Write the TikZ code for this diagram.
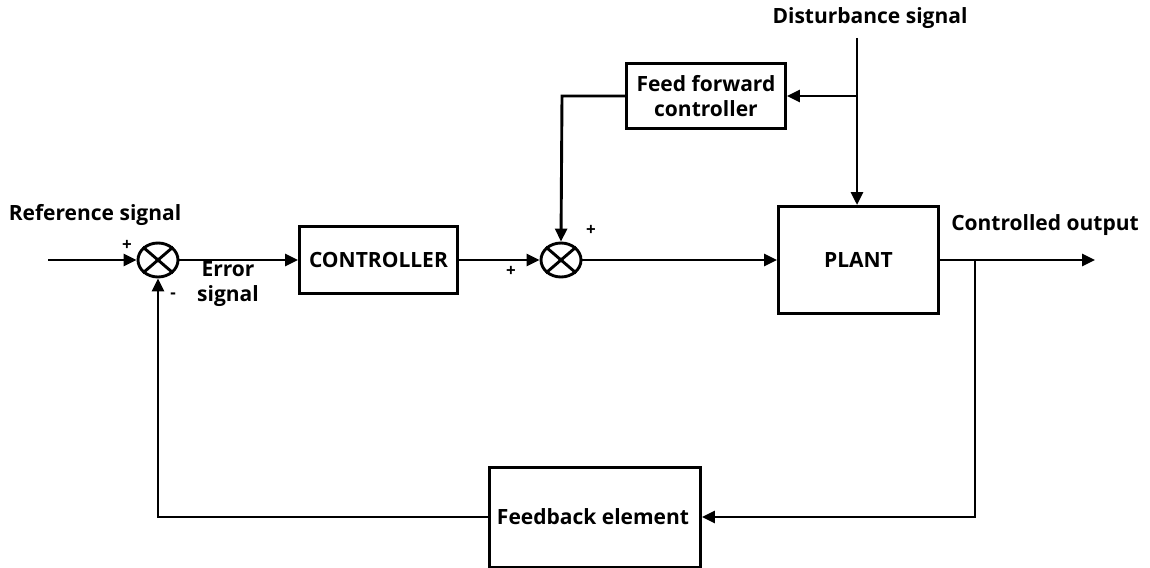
\documentclass[tikz,border=0pt]{standalone}
\usepackage{fontspec}
\setmainfont{Open Sans}
\usetikzlibrary{arrows.meta,shapes.geometric}
\begin{document}
\begin{tikzpicture}[x=1pt,y=-1pt,
  line width=2.9pt,
  font=\fontsize{21}{25}\selectfont\bfseries,
  blk/.style={draw,line width=2.9pt,inner sep=0pt,anchor=north west},
  sumj/.style={draw,ellipse,line width=2.9pt,minimum width=40pt,minimum height=34pt,inner sep=0pt},
  lbl/.style={inner sep=0pt,align=center},
  sgn/.style={inner sep=0pt,font=\fontsize{17}{18}\selectfont\bfseries},
  arr/.style={-{Triangle[length=13pt,width=12pt]}}]
\useasboundingbox (0,0) rectangle (1150,567);
% blocks
\node[blk,minimum width=158pt,minimum height=67pt] (ctrl) at (298,225) {};
\node[lbl] (ctrlt) at (ctrl.center) {CONTROLLER};
\node[blk,minimum width=160pt,minimum height=107pt] (plant) at (777,205) {};
\node[lbl] (plantt) at (plant.center) {PLANT};
\node[blk,minimum width=159pt,minimum height=65pt] (ff) at (625,62) {};
\node[lbl] (fft) at (ff.center) {Feed forward\\controller};
\node[blk,minimum width=211pt,minimum height=100pt] (fb) at (488,466) {};
\node[lbl] (fbt) at (593,517) {Feedback element};
% summing junctions
\node[sumj] (s1) at (158,260) {};
\node[sumj] (s2) at (561,260) {};
\draw (s1.north east) -- (s1.south west) (s1.north west) -- (s1.south east);
\draw (s2.north east) -- (s2.south west) (s2.north west) -- (s2.south east);
% coordinates
\coordinate (in) at (48,260);
\coordinate (dtop) at (857,38);
\coordinate (dbr) at (857,96);
\coordinate (ffl) at (562,96);
\coordinate (out) at (1095,260);
\coordinate (obr) at (975,260);
\coordinate (fbr) at (975,517);
\coordinate (fbl) at (158,517);
% connectors
\draw[arr] (in) -- (s1.west);
\draw[arr] (s1.east) -- (ctrl.west |- s1.east);
\draw[arr] (ctrl.east |- s2.west) -- (s2.west);
\draw[arr] (s2.east) -- (plant.west |- s2.east);
\draw[arr] (plant.east |- out) -- (out);
\draw[arr] (dtop) -- (dtop |- plant.north);
\draw[arr] (dbr) -- (ff.east |- dbr);
\draw[arr] (ff.west |- ffl) -- (ffl) -- (s2.north);
\draw[arr] (obr) -- (fbr) -- (fb.east |- fbr);
\draw[arr] (fb.west |- fbl) -- (fbl) -- (s1.south);
% labels
\node[lbl] (ref) at (95,215) {Reference signal};
\node[lbl] (dist) at (870,18) {Disturbance signal};
\node[lbl] (cout) at (1045,225) {Controlled output};
\node[lbl] (err) at (228,284) {Error\\signal};
\node[sgn] (p1) at (127,245) {+};
\node[sgn] (m1) at (173,296) {-};
\node[sgn] (p2) at (511,271) {+};
\node[sgn] (p3) at (591,230) {+};
\end{tikzpicture}
\end{document}
